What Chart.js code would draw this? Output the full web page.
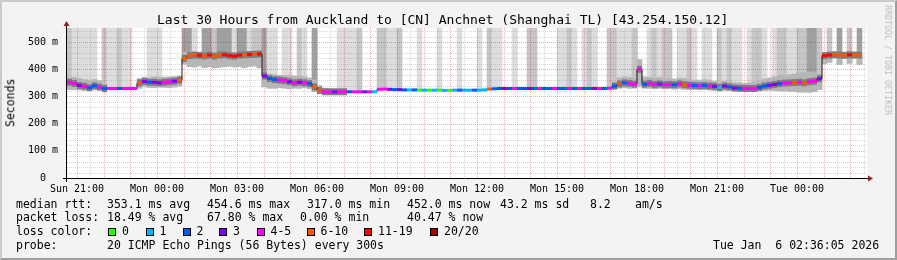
<!DOCTYPE html>
<html>
<head>
<meta charset="utf-8">
<title>SmokePing - Auckland to Anchnet</title>
<script src="https://cdn.jsdelivr.net/npm/chart.js@4.4.1/dist/chart.umd.min.js"></script>
<style>
  html, body { margin: 0; padding: 0; background: #f3f3f3; }
  #graph { position: relative; width: 897px; height: 260px; overflow: hidden;
           font-family: "DejaVu Sans Mono", monospace; color: #000; }
  #graph canvas { position: absolute; left: 0; top: 0; }
  .frame { position: absolute; left: 0; top: 0; width: 897px; height: 260px; box-sizing: border-box;
           border-top: 2px solid #cbcbcb; border-left: 2px solid #cbcbcb;
           border-right: 2px solid #9e9e9e; border-bottom: 2px solid #9e9e9e; pointer-events: none; }
  .t { position: absolute; white-space: pre; line-height: 1; }
  .title { font-size: 13px; left: 157px; top: 13px; }
  .lg { font-size: 11.5px; }
  .unit { font-size: 11.5px; left: -39px; top: 97px; width: 100px; text-align: center; transform: rotate(-90deg); }
  .mark { font-size: 8.3px; color: #bdbdbd; left: 818px; top: 56px; width: 140px; text-align: center; transform: rotate(90deg); }
  .box { position: absolute; width: 6px; height: 6px; border: 1px solid #000; top: 228px; }
</style>
</head>
<body>
<div id="graph">
  <canvas id="c" width="897" height="260"></canvas>
  <div class="t title">Last 30 Hours from Auckland to [CN] Anchnet (Shanghai TL) [43.254.150.12]</div>
  <div class="t unit">Seconds</div>
  <div class="t mark">RRDTOOL / TOBI OETIKER</div>

  <div class="t lg" style="left:16px;top:198.5px">median rtt:</div>
  <div class="t lg" style="left:107px;top:198.5px">353.1 ms avg</div>
  <div class="t lg" style="left:207px;top:198.5px">454.6 ms max</div>
  <div class="t lg" style="left:307px;top:198.5px">317.0 ms min</div>
  <div class="t lg" style="left:407px;top:198.5px">452.0 ms now</div>
  <div class="t lg" style="left:500px;top:198.5px">43.2 ms sd</div>
  <div class="t lg" style="left:590px;top:198.5px">8.2</div>
  <div class="t lg" style="left:635px;top:198.5px">am/s</div>

  <div class="t lg" style="left:16px;top:212px">packet loss:</div>
  <div class="t lg" style="left:107px;top:212px">18.49 % avg</div>
  <div class="t lg" style="left:207px;top:212px">67.80 % max</div>
  <div class="t lg" style="left:300px;top:212px">0.00 % min</div>
  <div class="t lg" style="left:407px;top:212px">40.47 % now</div>

  <div class="t lg" style="left:16px;top:226px">loss color:</div>
  <div id="lossLegend"></div>

  <div class="t lg" style="left:16px;top:239.5px">probe:</div>
  <div class="t lg" style="left:107px;top:239.5px">20 ICMP Echo Pings (56 Bytes) every 300s</div>
  <div class="t lg" style="left:713px;top:239.5px">Tue Jan  6 02:36:05 2026</div>

  <div class="frame"></div>
</div>
<script>
// one sample = 11.25 min, 160 samples over the 30 hours (20:37:30 .. 02:37:30)
const HOURS = 30;
const FIRST_TICK_HOUR = 0.375; // Sun 21:00 measured from the left edge
const TICK_EVERY = 3;
const TICK_LABELS = ['Sun 21:00', 'Mon 00:00', 'Mon 03:00', 'Mon 06:00', 'Mon 09:00',
                     'Mon 12:00', 'Mon 15:00', 'Mon 18:00', 'Mon 21:00', 'Tue 00:00'];
const Y_MAX = 551.5;
const Y_TICKS = [0, 100, 200, 300, 400, 500];
const Y_TICK_LABELS = ['0  ', '100 m', '200 m', '300 m', '400 m', '500 m'];

const LOSS_LABELS = ['0', '1', '2', '3', '4-5', '6-10', '11-19', '20/20'];
const LOSS_COLORS = ['#26ff00', '#00b8ff', '#0059ff', '#7e00ff', '#ff00ff', '#ff5500', '#ff0000', '#a10000'];

// median rtt in ms
const MEDIAN = [
  352, 348, 340, 337, 332, 339, 334, 329, 329, 329,
  329, 329, 329, 329, 350, 355, 352, 352, 350, 352,
  354, 356, 360, 440, 450, 452, 451, 449, 452, 448,
  452, 453, 450, 448, 452, 453, 454, 455, 456, 375,
  366, 362, 360, 358, 354, 350, 352, 350, 347, 335,
  322, 317, 317, 317, 317, 317, 317, 317, 317, 317,
  317, 317, 326, 327, 326, 325, 325, 324, 324, 324,
  323, 323, 323, 323, 323, 322, 322, 323, 323, 323,
  323, 323, 323, 324, 327, 328, 329, 329, 329, 329,
  329, 329, 329, 329, 329, 329, 329, 329, 329, 329,
  329, 329, 329, 329, 329, 329, 329, 329, 330, 338,
  346, 350, 348, 345, 400, 345, 348, 344, 346, 343,
  344, 343, 346, 343, 341, 340, 339, 340, 338, 337,
  333, 338, 335, 331, 330, 329, 329, 329, 333, 338,
  341, 344, 347, 349, 350, 351, 352, 350, 354, 356,
  365, 450, 452, 453, 452, 451, 453, 452, 452, null
];
// index into LOSS_COLORS
const LOSS = [
  4, 4, 3, 4, 2, 2, 4, 2, 4, 4,
  2, 4, 4, 4, 5, 3, 2, 3, 3, 4,
  4, 3, 5, 5, 5, 5, 6, 5, 6, 5,
  5, 6, 6, 6, 6, 5, 6, 5, 6, 3,
  2, 2, 4, 4, 3, 4, 3, 4, 2, 5,
  5, 4, 4, 3, 4, 4, 2, 4, 4, 3,
  4, 1, 4, 4, 3, 2, 3, 2, 1, 2,
  0, 1, 0, 1, 0, 1, 0, 1, 2, 1,
  1, 2, 1, 1, 5, 2, 2, 3, 2, 4,
  2, 2, 3, 2, 4, 2, 2, 4, 2, 2,
  4, 2, 4, 2, 2, 3, 4, 2, 4, 2,
  5, 2, 4, 4, 4, 2, 4, 4, 3, 4,
  4, 2, 4, 5, 4, 2, 4, 2, 4, 3,
  1, 3, 2, 3, 2, 4, 4, 4, 2, 2,
  3, 3, 2, 4, 4, 5, 4, 5, 4, 4,
  3, 6, 6, 5, 5, 5, 6, 5, 5, 5
];
// smoke: spread of the individual pings (ms)
const SMOKE_LO = [
  325, 325, 324, 322, 322, 324, 325, 326, null, null,
  null, null, null, null, 330, 335, 333, 332, 334, 333,
  332, 334, 338, 420, 410, 408, 412, 406, 410, 405,
  408, 410, 412, 408, 410, 406, 410, 412, 405, 335,
  330, 330, 332, 330, 328, 330, 330, 332, 328, 318,
  316, 315, 315, 315, 315, 315, null, null, null, null,
  null, null, null, null, null, null, null, null, null, null,
  null, null, null, null, null, null, null, null, null, null,
  null, null, null, null, null, null, null, null, null, null,
  null, null, null, null, null, null, null, null, null, null,
  null, null, null, null, null, null, null, null, null, 328,
  330, 332, 330, 331, 335, 330, 330, 328, 330, 328,
  328, 326, 328, 326, 325, 325, 324, 325, 324, 322,
  320, 322, 322, 320, 320, 318, 318, 320, 320, 322,
  322, 322, 320, 320, 318, 318, 316, 316, 316, 318,
  325, 420, 425, 445, 418, 445, 422, 445, 418, null
];
const SMOKE_HI = [
  368, 370, 366, 362, 360, 362, 358, 345, null, null,
  null, null, null, null, 365, 370, 368, 372, 370, 371,
  372, 373, 375, 462, 462, 460, 462, 460, 462, 460,
  462, 462, 460, 462, 462, 462, 464, 464, 464, 385,
  382, 380, 378, 376, 378, 375, 374, 372, 368, 360,
  340, 330, 328, 326, 324, 322, null, null, null, null,
  null, null, null, null, null, null, null, null, null, null,
  null, null, null, null, null, null, null, null, null, null,
  null, null, null, null, null, null, null, null, null, null,
  null, null, null, null, null, null, null, null, null, null,
  null, null, null, null, null, null, null, null, null, 352,
  368, 372, 370, 366, 435, 372, 370, 366, 370, 364,
  366, 364, 368, 366, 362, 360, 360, 362, 360, 356,
  352, 356, 354, 350, 350, 348, 350, 352, 358, 364,
  368, 372, 376, 378, 380, 382, 385, 388, 390, 390,
  382, 458, 456, 456, 456, 456, 456, 456, 456, null
];
// pings off the top of the graph: 0 none, 1 few, 2 more, 3 many
const TALL = [
  2, 1, 1, 1, 1, 1, 0, 2, 1, 1,
  2, 1, 1, 0, 0, 0, 1, 1, 1, 0,
  0, 0, 0, 3, 3, 1, 0, 3, 3, 2,
  3, 3, 3, 1, 3, 3, 1, 2, 2, 3,
  1, 1, 0, 1, 1, 0, 2, 1, 0, 3,
  0, 0, 0, 0, 1, 1, 1, 1, 2, 0,
  0, 0, 2, 2, 1, 1, 2, 0, 0, 0,
  1, 0, 0, 0, 1, 0, 0, 0, 1, 0,
  0, 0, 1, 0, 2, 1, 1, 0, 0, 1,
  0, 0, 2, 2, 0, 0, 0, 0, 1, 1,
  2, 1, 0, 1, 2, 1, 0, 0, 2, 2,
  1, 1, 1, 2, 0, 0, 1, 2, 1, 2,
  2, 0, 1, 1, 2, 1, 0, 1, 1, 0,
  2, 1, 2, 1, 1, 0, 1, 2, 2, 1,
  0, 1, 2, 2, 1, 1, 2, 2, 3, 3,
  2, 0, 2, 0, 3, 0, 2, 0, 3, 0
];

const FONT = '"DejaVu Sans Mono", monospace';
const TALL_COLORS = ['rgba(0,0,0,0)', '#dddddd', '#c6c6c6', '#a0a0a0'];
const SMOKE_COLOR = '#b6b6b6';
const CORE_COLOR = '#7c7c7c';
const MAJOR_GRID = 'rgba(255,0,0,0.35)';
const MINOR_GRID = 'rgba(140,140,140,0.35)';
const ARROW_COLOR = '#902020';

// loss colour legend
const BOX_X = [108, 145.5, 182.5, 219, 256.5, 306.5, 364, 430];
const lossLegend = document.getElementById('lossLegend');
LOSS_LABELS.forEach((lab, k) => {
  const b = document.createElement('div');
  b.className = 'box';
  b.style.left = BOX_X[k] + 'px';
  b.style.background = LOSS_COLORS[k];
  lossLegend.appendChild(b);
  const t = document.createElement('div');
  t.className = 't lg';
  t.style.left = (BOX_X[k] + 14) + 'px';
  t.style.top = '226px';
  t.textContent = lab;
  lossLegend.appendChild(t);
});

const N = MEDIAN.length;
const perHour = N / HOURS;
const xOf = i => i + 0.5;

const rrdFrame = {
  id: 'rrdFrame',
  beforeDraw(chart) {
    const { ctx, chartArea: a } = chart;
    ctx.save();
    ctx.fillStyle = '#ffffff';
    ctx.fillRect(a.left, a.top, a.right - a.left, a.bottom - a.top);
    ctx.restore();
  },
  afterDatasetDraw(chart, args) {
    if (args.index !== 0) return;
    const { ctx, chartArea: a, scales: { x, y } } = chart;
    ctx.save();
    ctx.lineWidth = 1;
    ctx.setLineDash([1, 1]);
    const hline = (v, col) => {
      const py = Math.round(y.getPixelForValue(v)) + 0.5;
      ctx.strokeStyle = col;
      ctx.beginPath(); ctx.moveTo(a.left, py); ctx.lineTo(a.right, py); ctx.stroke();
    };
    const vline = (h, col) => {
      const px = Math.round(x.getPixelForValue(h * perHour)) + 0.5;
      ctx.strokeStyle = col;
      ctx.beginPath(); ctx.moveTo(px, a.top); ctx.lineTo(px, a.bottom); ctx.stroke();
    };
    for (let v = 20; v < Y_MAX; v += 20) if (v % 100) hline(v, MINOR_GRID);
    for (let h = FIRST_TICK_HOUR + 0.5; h < HOURS; h += 1) vline(h, MINOR_GRID);
    for (let v = 100; v < Y_MAX; v += 100) hline(v, MAJOR_GRID);
    for (let h = FIRST_TICK_HOUR; h < HOURS; h += 1) vline(h, MAJOR_GRID);
    ctx.restore();
  },
  afterDraw(chart) {
    const { ctx, chartArea: a } = chart;
    ctx.save();
    ctx.strokeStyle = '#000';
    ctx.lineWidth = 1;
    const ax = a.left - 0.5, ay = a.bottom + 0.5;
    ctx.beginPath();
    ctx.moveTo(a.left - 4, ay); ctx.lineTo(a.right + 1, ay);
    ctx.moveTo(ax, a.bottom + 4); ctx.lineTo(ax, a.top - 2);
    ctx.stroke();
    ctx.fillStyle = ARROW_COLOR;
    ctx.beginPath();
    ctx.moveTo(a.right + 1, ay - 3); ctx.lineTo(a.right + 6, ay); ctx.lineTo(a.right + 1, ay + 3);
    ctx.closePath(); ctx.fill();
    ctx.beginPath();
    ctx.moveTo(ax - 3, a.top - 2); ctx.lineTo(ax, a.top - 7); ctx.lineTo(ax + 3, a.top - 2);
    ctx.closePath(); ctx.fill();
    ctx.restore();
  }
};

const barBase = { type: 'bar', grouped: false, barPercentage: 1, categoryPercentage: 1, borderWidth: 0 };

new Chart(document.getElementById('c'), {
  type: 'bar',
  data: {
    datasets: [
      Object.assign({}, barBase, {
        order: 5,
        data: TALL.map((t, i) => ({ x: xOf(i), y: t ? [SMOKE_LO[i] ?? MEDIAN[i], Y_MAX] : null })),
        backgroundColor: c => TALL_COLORS[TALL[c.dataIndex]]
      }),
      Object.assign({}, barBase, {
        order: 4,
        data: SMOKE_LO.map((lo, i) => ({ x: xOf(i), y: lo == null ? null : [lo, SMOKE_HI[i]] })),
        backgroundColor: SMOKE_COLOR
      }),
      {
        type: 'line', order: 3, showLine: false,
        data: MEDIAN.map((m, i) => ({ x: xOf(i), y: SMOKE_LO[i] == null ? null : m })),
        pointStyle: 'line', pointRadius: 2.5, pointBorderWidth: 7, pointBorderColor: CORE_COLOR
      },
      {
        type: 'line', order: 2,
        data: MEDIAN.map((m, i) => ({ x: xOf(i), y: m })),
        stepped: 'middle', borderColor: '#1a1a1a', borderWidth: 1, pointRadius: 0
      },
      {
        type: 'line', order: 1, showLine: false,
        data: MEDIAN.map((m, i) => ({ x: xOf(i), y: m })),
        pointStyle: 'line', pointRadius: 2.5, pointBorderWidth: 3,
        pointBorderColor: c => LOSS_COLORS[LOSS[c.dataIndex]]
      }
    ]
  },
  options: {
    responsive: false,
    animation: false,
    devicePixelRatio: 1,
    events: [],
    layout: { padding: { left: 0, top: 28, right: 30, bottom: 62 } },
    plugins: { legend: { display: false }, tooltip: { enabled: false }, title: { display: false } },
    scales: {
      x: {
        type: 'linear', min: 0, max: N, offset: false,
        grid: { display: false, drawTicks: false },
        border: { display: false },
        afterBuildTicks: s => {
          s.ticks = TICK_LABELS.map((_, k) => ({ value: (FIRST_TICK_HOUR + k * TICK_EVERY) * perHour }));
        },
        afterFit: s => { s.height = 20; },
        ticks: {
          autoSkip: false, maxRotation: 0, minRotation: 0, padding: 5,
          color: '#000', font: { family: FONT, size: 10 },
          callback: (v, i) => TICK_LABELS[i]
        }
      },
      y: {
        type: 'linear', min: 0, max: Y_MAX,
        grid: { display: false, drawTicks: false },
        border: { display: false },
        afterBuildTicks: s => { s.ticks = Y_TICKS.map(v => ({ value: v })); },
        afterFit: s => { s.width = 67; },
        ticks: {
          padding: 9, color: '#000', font: { family: FONT, size: 10 },
          callback: (v, i) => Y_TICK_LABELS[i]
        }
      }
    }
  },
  plugins: [rrdFrame]
});
</script>
</body>
</html>
